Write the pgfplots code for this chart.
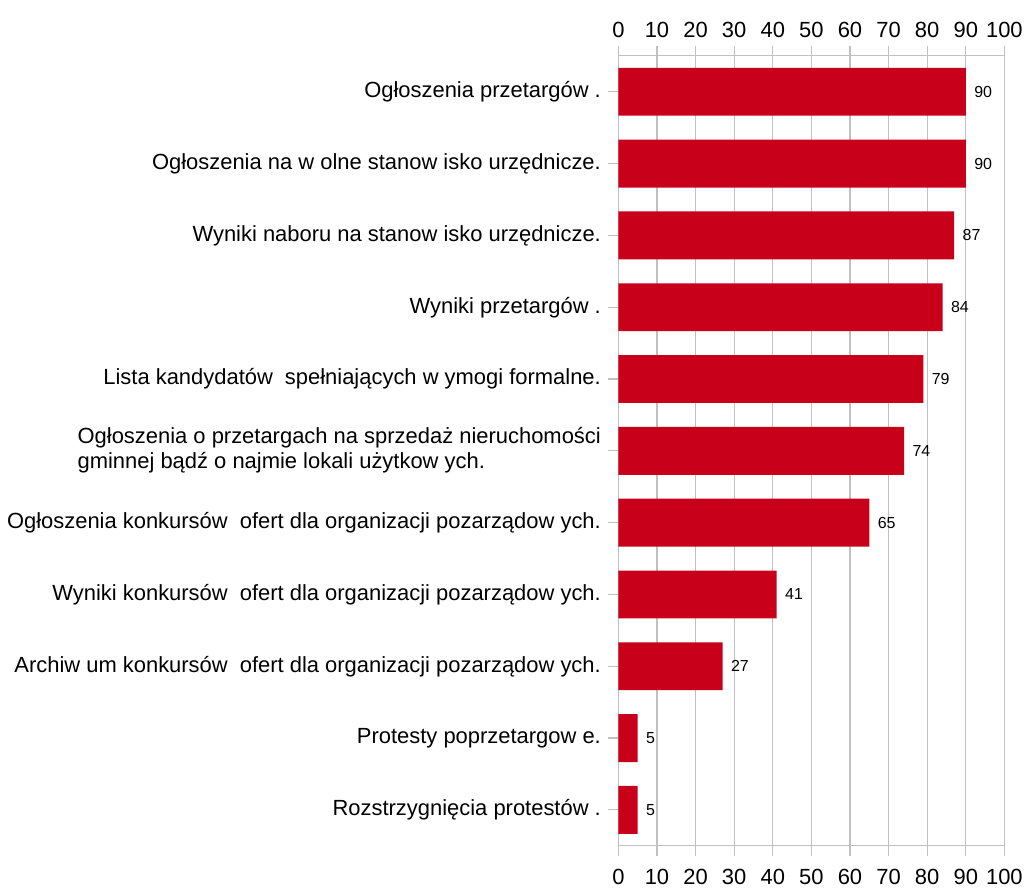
\documentclass[border=0pt]{standalone}
\usepackage{fontspec}
\setmainfont{Liberation Sans}
\usepackage{pgfplots}
\pgfplotsset{compat=1.18}
\usetikzlibrary{calc}

\definecolor{barred}{HTML}{C8001A}
\definecolor{gridgray}{HTML}{C0C0C0}

\pgfplotsset{
  base/.style={
    scale only axis,
    width=387pt, height=792pt,
    xmin=0, xmax=100,
    ymin=-0.5, ymax=10.5,
    y dir=reverse,
    xtick={0,10,...,100},
    axis line style={gridgray, line width=1.2pt},
    major tick style={gridgray, line width=1.2pt},
    major tick length=10pt,
    tick align=outside,
    xmajorgrids,
    grid style={gridgray, line width=1.2pt},
    tick label style={font=\fontsize{22}{26}\selectfont},
    /pgf/number format/assume math mode=true,
  },
}
\newcommand{\dsp}{\hspace{0.55em}}

\begin{document}
\begin{tikzpicture}
\begin{axis}[
  base,
  xbar,
  bar width=48pt,
  xticklabel pos=upper,
  xtick pos=both,
  xticklabel style={yshift=5pt},
  ytick={0,...,10},
  ytick pos=left,
  yticklabels={
    {Ogłoszenia przetargów .},
    {Ogłoszenia na w olne stanow isko urzędnicze.},
    {Wyniki naboru na stanow isko urzędnicze.},
    {Wyniki przetargów .},
    {Lista kandydatów\dsp spełniających w ymogi formalne.},
    {\begin{tabular}{@{}l@{}}Ogłoszenia o przetargach na sprzedaż nieruchomości\\gminnej bądź o najmie lokali użytkow ych.\end{tabular}},
    {Ogłoszenia konkursów\dsp ofert dla organizacji pozarządow ych.},
    {Wyniki konkursów\dsp ofert dla organizacji pozarządow ych.},
    {Archiw um konkursów\dsp ofert dla organizacji pozarządow ych.},
    {Protesty poprzetargow e.},
    {Rozstrzygnięcia protestów .},
  },
  yticklabel style={font=\fontsize{22}{26}\selectfont, align=right, xshift=-4pt},
  nodes near coords,
  every node near coord/.append style={font=\fontsize{16}{18}\selectfont, black, xshift=5pt},
]
\addplot[fill=barred, draw=none] coordinates {
  (90,0) (90,1) (87,2) (84,3) (79,4) (74,5) (65,6) (41,7) (27,8) (5,9) (5,10)
};
\end{axis}
\begin{axis}[
  base,
  xticklabel pos=lower,
  xtick pos=both,
  xticklabel style={yshift=-10pt},
  ytick=\empty,
  axis line style={draw=none},
  xmajorgrids=false,
]
\end{axis}
\path[use as bounding box] ($(current axis.south west)+(-620pt,-47pt)$) rectangle ($(current axis.north east)+(19pt,56pt)$);
\end{tikzpicture}
\end{document}
